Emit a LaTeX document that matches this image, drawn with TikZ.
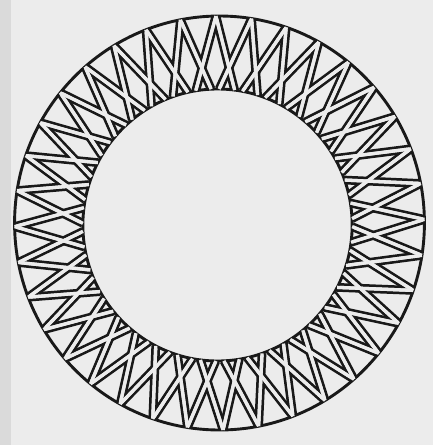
\documentclass[tikz,border=0pt]{standalone}
\definecolor{bg}{RGB}{236,236,236}
\definecolor{edge}{RGB}{218,218,218}
\definecolor{ink}{RGB}{25,25,25}
\begin{document}
\begin{tikzpicture}[x=1pt,y=-1pt,
  blackband/.style={draw=ink,line width=8.8pt},
  whiteband/.style={draw=bg,line width=3.3pt},
  rim/.style={draw=ink,line width=2.9pt}]
\fill[bg] (0,0) rectangle (432,445);
\useasboundingbox (0,0) rectangle (432,445);
\def\N{36}
\def\R{207}
\def\r{136}
\def\k{0.83}
\def\ph{-1}
\begin{scope}[shift={(219.5,223)},xscale=0.99]
\coordinate (oc) at (0,0);
\coordinate (ic) at (-2,2);
% black bands
\foreach \i in {1,...,\N}{
  \pgfmathsetmacro{\a}{\ph+\i*360/\N}
  \pgfmathsetmacro{\b}{\a+\k*360/\N}
  \pgfmathsetmacro{\d}{\a-\k*360/\N}
  \draw[blackband] (\a:\R) -- ([shift={(-2,2)}]\b:\r);
  \draw[blackband] (\a:\R) -- ([shift={(-2,2)}]\d:\r);
}
\foreach \i in {1,...,\N}{
  \pgfmathsetmacro{\a}{\ph+\i*360/\N}
  \pgfmathsetmacro{\b}{\a+\k*360/\N}
  \pgfmathsetmacro{\d}{\a-\k*360/\N}
  \draw[whiteband] (\a:\R) -- ([shift={(-2,2)}]\b:\r);
  \draw[whiteband] (\a:\R) -- ([shift={(-2,2)}]\d:\r);
}
% mask outside ring
\fill[bg,even odd rule] (-230,-230) rectangle (230,230) (oc) circle (\R);
\fill[bg] (ic) circle (\r);
\draw[rim] (oc) circle (\R);
\draw[rim] (ic) circle (\r);
\foreach \i in {1,...,\N}{
  \pgfmathsetmacro{\a}{\ph+\i*360/\N}
  \pgfmathsetmacro{\b}{\a+\k*360/\N}
  \pgfmathsetmacro{\d}{\a-\k*360/\N}
  \draw[whiteband] (\a:\R) -- ([shift={(-2,2)}]\b:\r);
  \draw[whiteband] (\a:\R) -- ([shift={(-2,2)}]\d:\r);
}
\end{scope}
\fill[edge] (0,0) rectangle (11,445);
\end{tikzpicture}
\end{document}
